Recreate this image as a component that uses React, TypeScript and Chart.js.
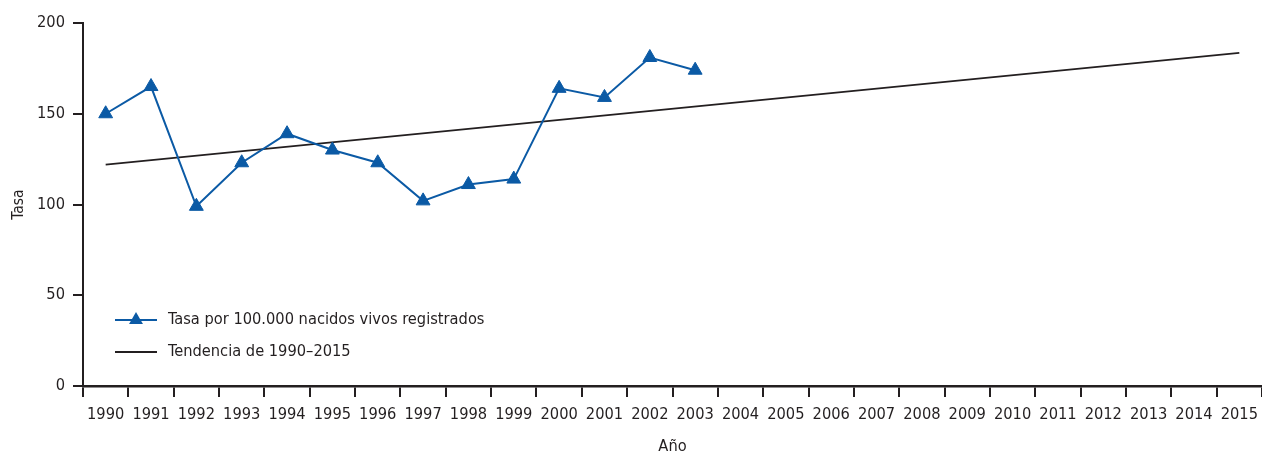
import React, { useEffect, useRef } from 'react';
import { Chart, registerables } from 'chart.js';
Chart.register(...registerables);

const years = ['1990','1991','1992','1993','1994','1995','1996','1997','1998','1999','2000','2001','2002','2003','2004','2005','2006','2007','2008','2009','2010','2011','2012','2013','2014','2015'];
const tasa = [150,165,99,123,139,130,123,102,111,114,164,159,181,174,null,null,null,null,null,null,null,null,null,null,null,null];
const tendencia = [122,null,null,null,null,null,null,null,null,null,null,null,null,null,null,null,null,null,null,null,null,null,null,null,null,183.5];
const yTicks = [0, 50, 100, 150, 200];
const legendLabels = ['Tasa por 100.000 nacidos vivos registrados', 'Tendencia de 1990\u20132015'];
const xTitle = 'Año';
const yTitle = 'Tasa';

const BLUE = '#0b5aa5';
const DARK = '#231f20';
const FONT = "'DejaVu Sans Condensed', 'Liberation Sans Narrow', Arial, sans-serif";

const legendPlugin = {
  id: 'insideLegend',
  afterDraw(chart: any) {
    const { ctx, chartArea } = chart;
    const x0 = chartArea.left + 32;
    const x1 = x0 + 42;
    const tx = x1 + 11;
    const rows = [chartArea.top + 297, chartArea.top + 329];
    ctx.save();
    ctx.strokeStyle = BLUE;
    ctx.lineWidth = 2;
    ctx.beginPath();
    ctx.moveTo(x0, rows[0]);
    ctx.lineTo(x1, rows[0]);
    ctx.stroke();
    const cx = (x0 + x1) / 2;
    const r = 8;
    ctx.fillStyle = BLUE;
    ctx.beginPath();
    ctx.moveTo(cx, rows[0] - r);
    ctx.lineTo(cx + Math.sin((2 * Math.PI) / 3) * r, rows[0] + r / 2);
    ctx.lineTo(cx - Math.sin((2 * Math.PI) / 3) * r, rows[0] + r / 2);
    ctx.closePath();
    ctx.fill();
    ctx.strokeStyle = DARK;
    ctx.lineWidth = 1.8;
    ctx.beginPath();
    ctx.moveTo(x0, rows[1]);
    ctx.lineTo(x1, rows[1]);
    ctx.stroke();
    ctx.fillStyle = DARK;
    ctx.font = `16.3px ${FONT}`;
    ctx.textBaseline = 'middle';
    ctx.textAlign = 'left';
    ctx.fillText(legendLabels[0], tx, rows[0]);
    ctx.fillText(legendLabels[1], tx, rows[1]);
    ctx.restore();
  },
};

export default function App() {
  const ref = useRef<HTMLCanvasElement | null>(null);
  useEffect(() => {
    document.body.style.margin = '0';
    if (!ref.current) return;
    const chart = new Chart(ref.current, {
      type: 'line',
      data: {
        labels: years,
        datasets: [
          {
            label: legendLabels[0],
            data: tasa,
            borderColor: BLUE,
            backgroundColor: BLUE,
            borderWidth: 2,
            pointStyle: 'triangle',
            pointRadius: (c: any) => (tasa[c.dataIndex] == null ? 0 : 8),
            pointHoverRadius: 0,
            pointBackgroundColor: BLUE,
            pointBorderColor: BLUE,
            pointBorderWidth: (c: any) => (tasa[c.dataIndex] == null ? 0 : 1),
            tension: 0,
            spanGaps: false,
          },
          {
            label: legendLabels[1],
            data: tendencia,
            borderColor: DARK,
            borderWidth: 1.8,
            pointRadius: 0,
            pointHoverRadius: 0,
            pointBorderWidth: 0,
            spanGaps: true,
            tension: 0,
          },
        ],
      },
      plugins: [legendPlugin],
      options: {
        responsive: false,
        animation: false,
        devicePixelRatio: 1,
        events: [],
        layout: { autoPadding: false, padding: { top: 23, right: -2, left: 0, bottom: 0 } },
        plugins: { legend: { display: false }, tooltip: { enabled: false } },
        scales: {
          x: {
            type: 'category',
            offset: true,
            grid: { offset: true, drawOnChartArea: false, tickLength: 11, color: DARK, lineWidth: 2 },
            border: { color: DARK, width: 2.5 },
            ticks: { color: DARK, font: { family: FONT, size: 16.3 }, padding: 8, maxRotation: 0, autoSkip: false },
            title: { display: true, text: xTitle, color: DARK, font: { family: FONT, size: 16.3 }, padding: { top: 0, bottom: -5 } },
            afterFit: (s: any) => { s.height = 66; s.paddingRight = 0; s.paddingLeft = 0; },
          },
          y: {
            min: 0,
            max: 200,
            afterBuildTicks: (s: any) => { s.ticks = yTicks.map((v) => ({ value: v })); },
            grid: { drawOnChartArea: false, tickLength: 10, color: DARK, lineWidth: 2 },
            border: { color: DARK, width: 2 },
            ticks: { color: DARK, font: { family: FONT, size: 16.3 }, padding: 8 },
            title: { display: true, text: yTitle, color: DARK, font: { family: FONT, size: 15.5 }, padding: { top: 10, bottom: 0 } },
            afterFit: (s: any) => { s.width = 83; },
          },
        },
      },
    });
    return () => chart.destroy();
  }, []);
  return (
    <div style={{ width: 1262, height: 452 }}>
      <canvas ref={ref} width={1262} height={452} style={{ display: 'block' }} />
    </div>
  );
}
